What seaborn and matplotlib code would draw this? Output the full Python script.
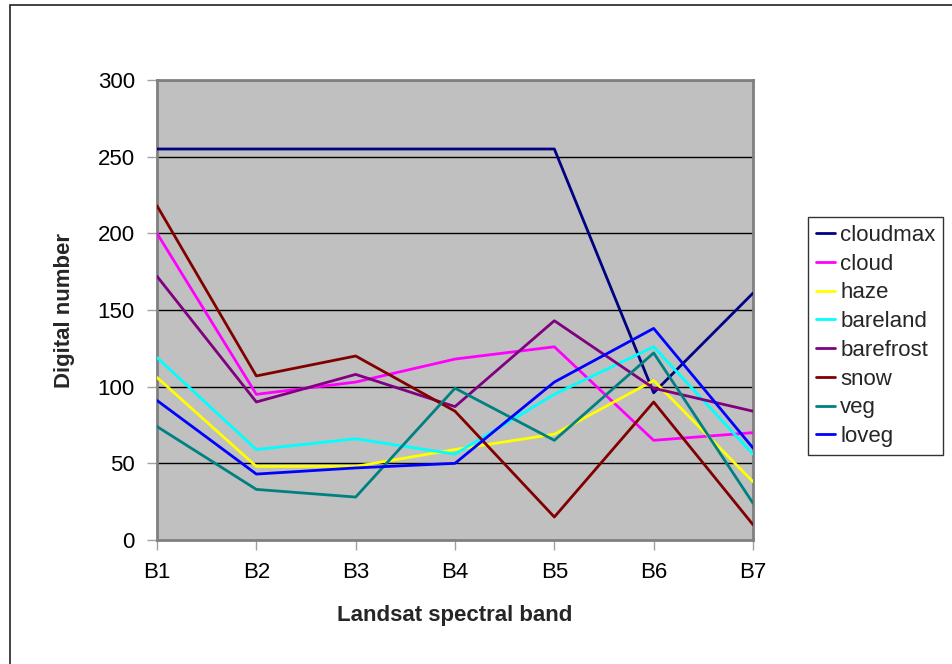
import matplotlib
matplotlib.use("Agg")
import matplotlib.pyplot as plt
from matplotlib.patches import Rectangle
import seaborn as sns
import pandas as pd

bands = ["B1", "B2", "B3", "B4", "B5", "B6", "B7"]

cloudmax = [255, 255, 255, 255, 255, 96, 161]
cloud = [200, 95, 103, 118, 126, 65, 70]
haze = [106, 48, 48, 59, 69, 104, 38]
bareland = [119, 59, 66, 56, 95, 126, 56]
barefrost = [172, 90, 108, 87, 143, 99, 84]
snow = [218, 107, 120, 84, 15, 90, 10]
veg = [74, 33, 28, 99, 65, 122, 24]
loveg = [91, 43, 47, 50, 103, 138, 60]

classes = ["cloudmax", "cloud", "haze", "bareland", "barefrost", "snow", "veg", "loveg"]
series = [cloudmax, cloud, haze, bareland, barefrost, snow, veg, loveg]
colors = ["#000080", "#FF00FF", "#FFFF00", "#00FFFF", "#800080", "#800000", "#008080", "#0000FF"]

rows = []
for name, vals in zip(classes, series):
    for i, v in enumerate(vals):
        rows.append({"band": i, "class": name, "value": v})
df = pd.DataFrame(rows)

sns.set_theme(style="white")
plt.rcParams["font.family"] = ["Liberation Sans", "DejaVu Sans"]

fig = plt.figure(figsize=(9.53, 6.64), dpi=100)
ax = fig.add_axes([157 / 953, 1 - 540 / 664, (753 - 157) / 953, (540 - 80) / 664])
ax.set_facecolor("#C0C0C0")

# outer chart frame
fig.patches.append(Rectangle((10 / 953, -0.1), 1.2, 1 - 5 / 664 + 0.1,
                             transform=fig.transFigure, fill=False,
                             edgecolor="#222222", linewidth=1.2, zorder=0))

ax.set_ylim(0, 300)
ax.set_yticks(range(0, 301, 50))
for yv in range(50, 301, 50):
    ax.axhline(yv, color="black", linewidth=1.0, zorder=1)

sns.lineplot(data=df, x="band", y="value", hue="class", hue_order=classes,
             palette=colors, linewidth=2.0, ax=ax, sort=False, zorder=3)

ax.set_xlim(0, 6)
ax.set_xticks(range(len(bands)))
ax.set_xticklabels(bands)

for s in ax.spines.values():
    s.set_color("#808080")
    s.set_linewidth(2.0)

ax.tick_params(axis="both", which="both", length=7, width=1, color="#A0A0A0",
               labelsize=16, labelcolor="black", direction="out")
ax.tick_params(axis="y", pad=9, left=True)
ax.tick_params(axis="x", pad=9, bottom=True)

ax.set_xlabel("Landsat spectral band", fontsize=16, fontweight="bold", labelpad=16)
ax.set_ylabel("Digital number", fontsize=16, fontweight="bold", labelpad=16)

leg = ax.legend(loc="upper left", bbox_to_anchor=(808 / 953, 1 - 217 / 664),
                bbox_transform=fig.transFigure, frameon=True, fancybox=False,
                fontsize=16, handlelength=0.85, handletextpad=0.25,
                labelspacing=0.35, borderpad=0.35, borderaxespad=0)
leg.get_frame().set_edgecolor("black")
leg.get_frame().set_linewidth(1.0)
for line in leg.get_lines():
    line.set_linewidth(2.0)

fig.savefig("out.png", dpi=100)
